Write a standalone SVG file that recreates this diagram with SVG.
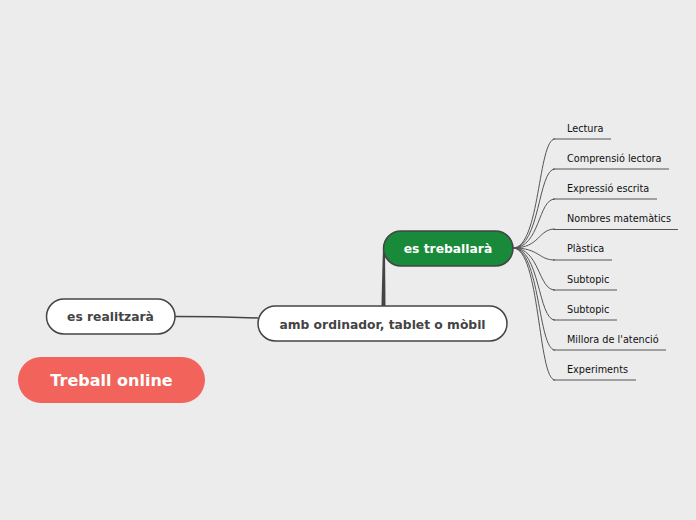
<svg xmlns="http://www.w3.org/2000/svg" width="696" height="520" viewBox="0 0 696 520">
<style>
.node{stroke:#444;stroke-width:1.5}
.bt{font-family:"DejaVu Sans",Verdana,sans-serif;font-weight:bold;font-size:12.3px;text-anchor:middle}
.st{font-family:"DejaVu Sans",Verdana,sans-serif;font-size:9.7px;fill:#111}
.c{fill:none;stroke:#555;stroke-width:1}
.u{fill:none;stroke:#555;stroke-width:1}
</style>
<rect width="696" height="520" fill="#ececec"/>
<g id="connectors">
<path d="M381.5 306 C382 285 382.5 262 383 248 L385 248 C385 262 385.5 285 385.5 306 Z" fill="#444"/>
<path d="M175 316.5 C210 316.5 230 317 258 318" fill="none" stroke="#444" stroke-width="1.5"/>
<path class="c" d="M513 248 C540 248 538 139 555 139"/>
<path class="c" d="M513 248 C540 248 538 169 555 169"/>
<path class="c" d="M513 248 C540 248 538 199 555 199"/>
<path class="c" d="M513 248 C540 248 538 229 555 229"/>
<path class="c" d="M513 248 C540 248 538 260 555 260"/>
<path class="c" d="M513 248 C540 248 538 290 555 290"/>
<path class="c" d="M513 248 C540 248 538 320 555 320"/>
<path class="c" d="M513 248 C540 248 538 350 555 350"/>
<path class="c" d="M513 248 C540 248 538 380 555 380"/>
</g>
<g id="root">
<rect x="18" y="357" width="187" height="46" rx="23" fill="#f2635b"/>
<text x="111.5" y="386" class="bt" style="font-size:16px" fill="#fff">Treball online</text>
</g>
<g id="central">
<rect class="node" x="258" y="306" width="249" height="35" rx="17.5" fill="#fff"/>
<text x="382.5" y="328.5" class="bt" fill="#444">amb ordinador, tablet o mòbil</text>
</g>
<g id="es-realitzara">
<rect class="node" x="46.5" y="299" width="128.5" height="35" rx="17.5" fill="#fff"/>
<text x="110.5" y="321" class="bt" fill="#444">es realitzarà</text>
</g>
<g id="es-treballara">
<rect class="node" x="383.5" y="231" width="129.5" height="35" rx="17.5" fill="#19893a"/>
<text x="448" y="252.5" class="bt" fill="#fff">es treballarà</text>
</g>
<g id="sub-lectura"><path class="u" d="M553 139 H611"/><text class="st" x="567" y="132">Lectura</text></g>
<g id="sub-comprensio"><path class="u" d="M553 169 H669"/><text class="st" x="567" y="162">Comprensió lectora</text></g>
<g id="sub-expressio"><path class="u" d="M553 199 H657"/><text class="st" x="567" y="192">Expressió escrita</text></g>
<g id="sub-nombres"><path class="u" d="M553 229.5 H678"/><text class="st" x="567" y="222">Nombres matemàtics</text></g>
<g id="sub-plastica"><path class="u" d="M553 260 H612"/><text class="st" x="567" y="252">Plàstica</text></g>
<g id="sub-subtopic1"><path class="u" d="M553 290 H617"/><text class="st" x="567" y="283">Subtopic</text></g>
<g id="sub-subtopic2"><path class="u" d="M553 320 H617"/><text class="st" x="567" y="313">Subtopic</text></g>
<g id="sub-millora"><path class="u" d="M553 350 H666"/><text class="st" x="567" y="343">Millora de l'atenció</text></g>
<g id="sub-experiments"><path class="u" d="M553 380 H636"/><text class="st" x="567" y="373">Experiments</text></g>
</svg>
